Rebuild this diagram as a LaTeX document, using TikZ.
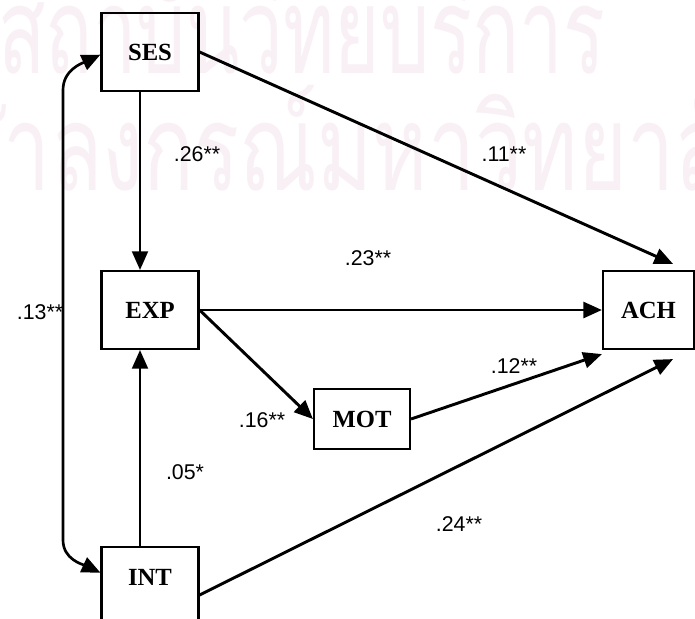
\documentclass[tikz,border=0pt]{standalone}
\usepackage{fontspec}
\setmainfont{Liberation Serif}
\setsansfont{Liberation Sans}
\newfontfamily\thaifont[Script=Thai]{Loma}
\usepackage{xcolor}
\definecolor{pathwm}{HTML}{F8F0F5}
\usepackage{tikz}
\usetikzlibrary{arrows.meta,positioning,calc}
\tikzset{
  pathbox/.style={draw,line width=1.6pt,inner sep=0pt,align=center,font=\rmfamily\bfseries\fontsize{18.5}{20}\selectfont,minimum width=72.75pt,minimum height=58.5pt},
  pathflow/.style={-{Triangle[length=14pt,width=12pt]},line width=2.2pt},
  pathlink/.style={-{Triangle[length=14pt,width=12pt]},line width=1.6pt},
  pathcov/.style={{Triangle[length=14pt,width=12pt]}-{Triangle[length=14pt,width=12pt]},line width=2pt},
  pathlabel/.style={font=\sffamily\fontsize{16}{18}\selectfont,inner sep=1pt},
  pathwmark/.style={text=pathwm,font=\thaifont\fontsize{90}{90}\selectfont,inner sep=0pt},
}

\begin{document}
\begin{tikzpicture}[x=0.75pt,y=-0.75pt]
\fill[white] (0,0) rectangle (695,618);
\useasboundingbox (0,0) rectangle (695,618);
% faint watermark behind the model
\node[pathwmark,anchor=base west] (wmtop) at (-2,73) {\scalebox{0.65}[1]{สถาบันวิทยบริการ}};
\node[pathwmark,anchor=base west] (wmbot) at (-103,190) {\scalebox{0.70}[1]{จุฬาลงกรณ์มหาวิทยาลัย}};
% variables
\node[pathbox] (ses) at (150,52) {SES};
\node[pathbox] (exp) at (150,310) {EXP};
\node[pathbox,minimum width=68.25pt] (ach) at (648.5,310) {ACH};
\node[pathbox,minimum width=72pt,minimum height=45pt] (mot) at (362,419) {MOT};
\node[pathbox,minimum height=0pt,text height=28.5pt,text depth=57pt,anchor=north] (int) at (150,546) {INT};
% paths
\draw[pathlink] ([xshift=-7.5pt]ses.south) -- ([xshift=-7.5pt]exp.north);
\draw[pathlink] ([xshift=-7.5pt]int.north) -- ([xshift=-7.5pt]exp.south);
\draw[pathflow] (ses.east) -- ([xshift=18.4pt,yshift=4.5pt]ach.north);
\draw[pathflow] (exp.east) -- (ach.west);
\draw[pathflow] (exp.east) -- (mot.west);
\draw[pathflow] (mot.east) -- ([yshift=-3pt]ach.south west);
\draw[pathflow] ([yshift=-36.75pt]int.north east) -- ([xshift=18.4pt,yshift=-6.75pt]ach.south);
\coordinate (covtop) at (63,90);
\coordinate (covbot) at (63,540);
\draw[pathcov] ([yshift=-2pt]ses.west) to[out=205,in=90] (covtop) -- (covbot) to[out=-90,in=155] ([yshift=-20pt]int.north west);
% coefficients
\node[pathlabel] (b26) at (197,154) {.26**};
\node[pathlabel] (b11) at (504,154) {.11**};
\node[pathlabel] (b23) at (368,258) {.23**};
\node[pathlabel] (b13) at (40,312) {.13**};
\node[pathlabel] (b16) at (262,420) {.16**};
\node[pathlabel] (b12) at (514,366) {.12**};
\node[pathlabel] (b05) at (185,472) {.05*};
\node[pathlabel] (b24) at (459,524) {.24**};
\end{tikzpicture}
\end{document}
